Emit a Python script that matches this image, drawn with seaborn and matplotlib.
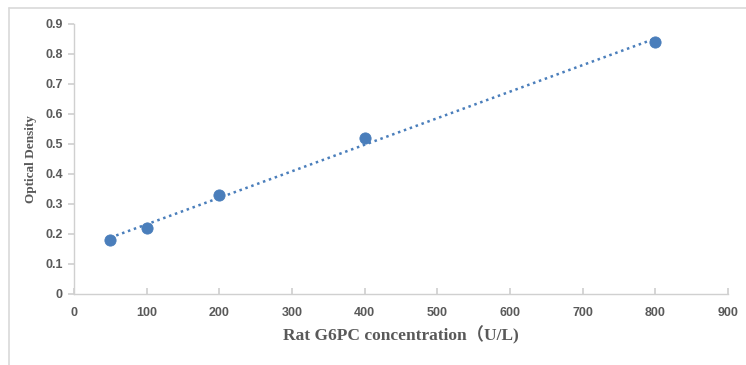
import matplotlib

matplotlib.use("Agg")
import matplotlib.pyplot as plt
import numpy as np
import pandas as pd
import seaborn as sns
from matplotlib.lines import Line2D

W, H = 746, 365
DOT_COLOR = "#4a7ebb"
GRAY = "#595959"

concentration = [50, 100, 200, 400, 800]
optical_density = [0.18, 0.22, 0.33, 0.52, 0.84]

x_ticks = list(range(0, 901, 100))
y_ticks = [0, 0.1, 0.2, 0.3, 0.4, 0.5, 0.6, 0.7, 0.8, 0.9]

df = pd.DataFrame({"conc": concentration, "od": optical_density})

sns.set_theme(style="white")

fig = plt.figure(figsize=(W / 100, H / 100), dpi=100)
ax = fig.add_axes([74 / W, 1 - 294 / H, (728 - 74) / W, (294 - 24) / H])

# dotted linear trendline
sns.regplot(
    data=df, x="conc", y="od", ax=ax, ci=None, scatter=False,
    line_kws={"color": DOT_COLOR, "linestyle": (0, (1, 1.5)), "linewidth": 1.8},
)
sns.scatterplot(data=df, x="conc", y="od", ax=ax, color=DOT_COLOR,
                s=65, edgecolor=DOT_COLOR, zorder=3)

ax.set_xlim(0, 900)
ax.set_ylim(0, 0.9)
ax.set_xticks(x_ticks)
ax.set_yticks(y_ticks)
ax.set_xticklabels([str(v) for v in x_ticks])
ax.set_yticklabels(["0"] + [f"{v:.1f}" for v in y_ticks[1:]])

for side in ["top", "right"]:
    ax.spines[side].set_visible(False)
for side in ["left", "bottom"]:
    ax.spines[side].set_color("#d0d0d0")
    ax.spines[side].set_linewidth(1)

ax.tick_params(axis="x", direction="in", length=4, color="#d0d0d0", pad=9,
               labelsize=9, labelcolor=GRAY, bottom=True)
ax.tick_params(axis="y", direction="out", length=4, color="#d0d0d0", pad=4,
               labelsize=9, labelcolor=GRAY, left=True)
for lbl in ax.get_xticklabels() + ax.get_yticklabels():
    lbl.set_fontfamily("Liberation Sans")
    lbl.set_fontweight("bold")

ax.set_xlabel("Rat G6PC concentration（U/L)", fontsize=12.5, fontweight="bold",
              color=GRAY, family=["Liberation Serif", "Noto Sans CJK SC"],
              labelpad=5)
ax.set_ylabel("Optical Density", fontsize=9.5, fontweight="bold", color=GRAY,
              family="Liberation Serif", labelpad=6)

# chart area frame (top and left edges)
fig.add_artist(Line2D([9 / W, 1], [1 - 8 / H] * 2, color="#d9d9d9", lw=1.2,
                      transform=fig.transFigure))
fig.add_artist(Line2D([9 / W] * 2, [0, 1 - 8 / H], color="#d9d9d9", lw=1.2,
                      transform=fig.transFigure))

fig.savefig("out.png", dpi=100, facecolor="white")
